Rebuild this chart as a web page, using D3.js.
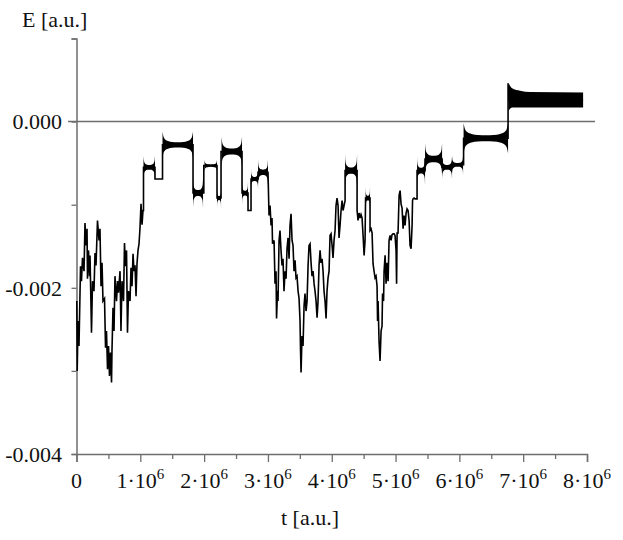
<!DOCTYPE html>
<html>
<head>
<meta charset="utf-8">
<script src="https://cdn.jsdelivr.net/npm/d3@7"></script>
<style>
  html, body { margin: 0; padding: 0; background: #fff; }
  svg { display: block; }
</style>
</head>
<body>
<svg id="chart" width="623" height="540"></svg>
<script>
// ---------------- DATA ----------------
// time in units of 10^6 a.u., energy in units of 10^-3 a.u.
const xTickValues = [0, 1, 2, 3, 4, 5, 6, 7, 8];
const xMinorTicks = [0.5, 1.5, 2.5, 3.5, 4.5, 5.5, 6.5, 7.5];
const yTickValues = [-4, -3, -2, -1, 0, 1];
const yTickLabels = { "0": "0.000", "-2": "-0.002", "-4": "-0.004" };

// main trace (step-like energy history)
const traceT = [
  0.005,0.011,0.024,0.039,0.063,0.078,0.094,0.118,0.133,0.149,0.165,0.172,0.188,0.204,0.212,0.235,0.251,0.274,0.290,0.306,
  0.329,0.353,0.368,0.384,0.400,0.415,0.439,0.455,0.470,0.486,0.502,0.517,0.533,0.549,0.556,0.572,0.588,0.603,0.627,0.643,
  0.658,0.682,0.697,0.713,0.737,0.752,0.768,0.784,0.799,0.815,0.839,0.854,0.870,0.886,0.901,0.917,0.933,0.948,0.964,0.980,
  0.995,1.011,1.027,1.042,
  1.050,1.050,1.230,1.230,1.348,1.348,1.826,1.826,1.995,1.995,2.202,2.202,2.265,2.265,2.594,2.594,2.688,2.688,2.735,2.735,
  2.845,2.845,3.001,
  3.017,3.033,3.049,3.064,3.072,3.096,3.111,3.127,3.135,3.150,3.158,3.174,3.189,3.205,3.221,3.236,3.252,3.268,3.284,3.299,
  3.315,3.331,3.346,3.362,3.378,3.393,3.409,3.425,3.440,3.456,3.472,3.487,3.503,3.511,3.519,3.534,3.550,3.566,3.581,3.597,
  3.613,3.629,3.644,3.660,3.676,3.691,3.707,3.723,3.738,3.754,3.770,3.785,3.801,3.817,3.832,3.848,3.864,3.879,3.895,3.911,
  3.926,3.942,3.958,3.973,3.989,4.005,4.020,4.036,4.052,4.067,4.083,4.099,4.114,4.130,4.146,4.162,4.177,4.193,4.209,
  4.209,4.397,4.397,4.412,4.428,4.444,4.459,4.475,4.491,4.507,4.522,4.530,4.600,
  4.600,4.616,4.632,4.647,4.663,4.679,4.694,4.710,4.718,4.726,4.741,4.757,4.773,4.788,4.796,4.812,4.820,4.836,4.851,4.867,
  4.883,4.898,4.914,4.930,4.945,4.961,4.977,4.992,5.008,5.016,5.024,5.039,5.055,5.071,5.086,5.102,5.118,5.133,5.149,5.165,
  5.180,5.196,5.212,5.227,5.243,5.259,5.266,5.274,5.290,5.306,5.321,5.337,
  5.337,5.462,5.462,5.729,5.729,5.885,5.885,6.066,6.066,6.763,6.763,6.771,7.939
];
const traceE = [
  -2.16,-3.00,-2.40,-2.70,-1.74,-1.92,-1.64,-1.80,-1.22,-1.49,-1.29,-1.89,-1.55,-1.86,-1.61,-2.54,-1.92,-2.04,-1.58,-1.73,
  -1.19,-1.43,-1.29,-1.98,-1.70,-2.16,-2.13,-2.72,-2.52,-2.98,-2.70,-3.06,-2.78,-3.14,-2.76,-2.24,-2.52,-1.86,-2.16,-1.92,
  -2.06,-1.80,-2.52,-1.92,-2.16,-1.46,-1.74,-1.55,-2.54,-2.04,-2.16,-1.76,-1.98,-1.59,-1.80,-1.73,-2.10,-1.71,-1.55,-1.47,
  -1.28,-0.99,-1.24,-1.07,
  -1.07,-0.55,-0.55,-0.69,-0.69,-0.28,-0.28,-0.86,-0.86,-0.53,-0.53,-0.92,-0.92,-0.36,-0.36,-0.86,-0.86,-1.07,-1.07,-0.69,
  -0.69,-0.61,-0.61,
  -1.13,-1.01,-1.25,-1.16,-1.47,-1.43,-1.95,-1.80,-2.37,-2.04,-2.16,-1.43,-1.31,-1.55,-1.73,-1.65,-2.04,-1.80,-1.89,-1.53,
  -1.40,-1.65,-1.25,-1.11,-1.43,-1.49,-1.80,-1.67,-1.88,-1.86,-2.04,-2.12,-2.40,-2.76,-3.02,-2.58,-2.70,-2.22,-2.07,-2.28,
  -2.16,-1.73,-1.49,-1.47,-1.70,-1.86,-1.80,-1.95,-2.04,-2.16,-2.36,-2.16,-1.73,-1.55,-1.70,-1.65,-1.80,-2.04,-2.16,-2.37,
  -2.04,-1.88,-1.80,-1.37,-1.35,-1.49,-1.64,-1.43,-1.31,-1.01,-0.92,-1.01,-1.40,-1.25,-1.07,-0.95,-1.07,-1.01,-0.95,
  -0.59,-0.59,-1.07,-1.19,-1.10,-1.16,-1.12,-1.16,-1.37,-1.61,-1.43,-0.92,-0.92,
  -1.31,-1.29,-1.34,-1.71,-1.80,-1.88,-1.86,-1.98,-2.40,-2.16,-2.64,-2.88,-2.52,-2.46,-2.07,-2.16,-1.80,-1.61,-1.95,-1.70,
  -1.92,-1.43,-1.37,-1.43,-1.36,-1.35,-1.35,-1.37,-1.55,-1.95,-1.34,-1.34,-0.89,-0.83,-0.99,-1.04,-1.29,-1.13,-1.25,-1.10,
  -1.05,-1.07,-1.19,-1.49,-1.53,-1.25,-0.95,-0.93,-0.92,-0.93,-0.93,-0.93,
  -0.59,-0.59,-0.45,-0.45,-0.55,-0.55,-0.52,-0.52,-0.20,-0.20,0.46,0.26,0.26
];

// oscillating plateaus ("bow-tie" envelopes)
const plateauStart = [1.050, 1.348, 1.826, 2.006, 2.202, 2.273, 2.594, 2.735, 2.845, 4.209, 4.530, 5.337, 5.462, 5.729, 5.885, 6.066];
const plateauEnd   = [1.230, 1.826, 1.983, 2.202, 2.265, 2.594, 2.688, 2.845, 3.001, 4.397, 4.600, 5.462, 5.729, 5.885, 6.058, 6.763];
const plateauLevel = [-0.55, -0.28, -0.86, -0.53, -0.92, -0.36, -0.86, -0.69, -0.61, -0.59, -0.92, -0.59, -0.45, -0.55, -0.52, -0.20];
const plateauSwing = [0.14, 0.16, 0.18, 0.07, 0.12, 0.18, 0.14, 0.12, 0.16, 0.19, 0.14, 0.17, 0.19, 0.14, 0.11, 0.18];

// final thick oscillation band
const bandT      = [6.771, 6.826, 6.952, 7.109, 7.939];
const bandTop    = [0.46, 0.40, 0.37, 0.355, 0.35];
const bandBottom = [0.13, 0.17, 0.17, 0.17, 0.17];

// ---------------- LAYOUT ----------------
const svg = d3.select("#chart");
const X0 = 76.5, X1 = 587, YTOP = 38.5, YBOT = 454;
const x = d3.scaleLinear().domain([0, 8]).range([X0, X1]);
const y = d3.scaleLinear().domain([-4, 1]).range([YBOT, YTOP]);

const axisColor = "#6e6e6e";
const serif = "'Liberation Serif', 'Times New Roman', serif";

// X axis
const xAxisG = svg.append("g").attr("transform", `translate(0,${YBOT})`);
xAxisG.call(d3.axisBottom(x).tickValues(xTickValues).tickSize(8).tickFormat(""));
xAxisG.append("g").call(d3.axisBottom(x).tickValues(xMinorTicks).tickSize(5).tickFormat(""));
xAxisG.selectAll("path.domain").attr("stroke", axisColor).attr("stroke-width", 1.5);
xAxisG.selectAll(".tick line").attr("stroke", axisColor).attr("stroke-width", 1.3);
xAxisG.selectAll("g > g > path.domain").remove();

// X tick labels
const xl = svg.append("g").attr("font-family", serif).attr("fill", "#111");
xTickValues.forEach(v => {
  const t = xl.append("text").attr("x", x(v)).attr("y", 488).attr("text-anchor", "middle")
    .attr("font-size", 22).attr("fill", "#111");
  if (v === 0) { t.text("0"); }
  else {
    t.append("tspan").text(v + "\u00B710");
    t.append("tspan").attr("font-size", 15).attr("dy", -9).text("6");
  }
});

// Y axis
const yAxisG = svg.append("g").attr("transform", `translate(${X0},0)`);
yAxisG.call(d3.axisLeft(y).tickValues(yTickValues).tickSize(5).tickFormat(""));
yAxisG.selectAll("path.domain").attr("stroke", axisColor).attr("stroke-width", 1.5);
yAxisG.selectAll(".tick line").attr("stroke", axisColor).attr("stroke-width", 1.3);

// Y tick labels
const yl = svg.append("g").attr("font-family", serif);
yTickValues.filter(v => yTickLabels[String(v)]).forEach(v => {
  yl.append("text").attr("x", 62).attr("y", y(v)).attr("dy", "0.35em")
    .attr("text-anchor", "end").attr("font-size", 22).attr("fill", "#111")
    .text(yTickLabels[String(v)]);
});

// Zero reference line
svg.append("line")
  .attr("x1", 68).attr("x2", 595).attr("y1", y(0)).attr("y2", y(0))
  .attr("stroke", axisColor).attr("stroke-width", 1.5);

// Axis titles
svg.append("text").attr("x", 22).attr("y", 27).attr("font-family", serif)
  .attr("font-size", 22).attr("fill", "#111").text("E [a.u.]");
svg.append("text").attr("x", 310).attr("y", 525).attr("text-anchor", "middle")
  .attr("font-family", serif).attr("font-size", 22).attr("fill", "#111").text("t [a.u.]");

// ---------------- MARKS ----------------
const plot = svg.append("g");

// bow-tie envelopes: wide at the ends of each plateau, narrow in the middle
const profileF = [0, 0.03, 0.08, 0.18, 0.32, 0.5, 0.68, 0.82, 0.92, 0.97, 1];
const profileP = [1, 0.62, 0.42, 0.29, 0.22, 0.2, 0.22, 0.29, 0.42, 0.62, 1];
const bowArea = d3.area().curve(d3.curveMonotoneX)
  .x(d => x(d.t)).y0(d => y(d.lo)).y1(d => y(d.hi));
plateauStart.forEach((s, i) => {
  const e = plateauEnd[i], lv = plateauLevel[i], sw = plateauSwing[i];
  const pts = profileF.map((f, k) => ({
    t: s + f * (e - s), lo: lv - sw * profileP[k], hi: lv + sw * profileP[k]
  }));
  plot.append("path").datum(pts).attr("d", bowArea).attr("fill", "#000");
});

// final band
const bandPts = bandT.map((t, i) => ({ t, lo: bandBottom[i], hi: bandTop[i] }));
plot.append("path").datum(bandPts)
  .attr("d", d3.area().curve(d3.curveMonotoneX).x(d => x(d.t)).y0(d => y(d.lo)).y1(d => y(d.hi)))
  .attr("fill", "#000");

// main trace
const tracePts = traceT.map((t, i) => [t, traceE[i]]);
plot.append("path").datum(tracePts)
  .attr("d", d3.line().x(d => x(d[0])).y(d => y(d[1])))
  .attr("fill", "none").attr("stroke", "#000").attr("stroke-width", 1.6)
  .attr("stroke-linejoin", "miter");
</script>
</body>
</html>
